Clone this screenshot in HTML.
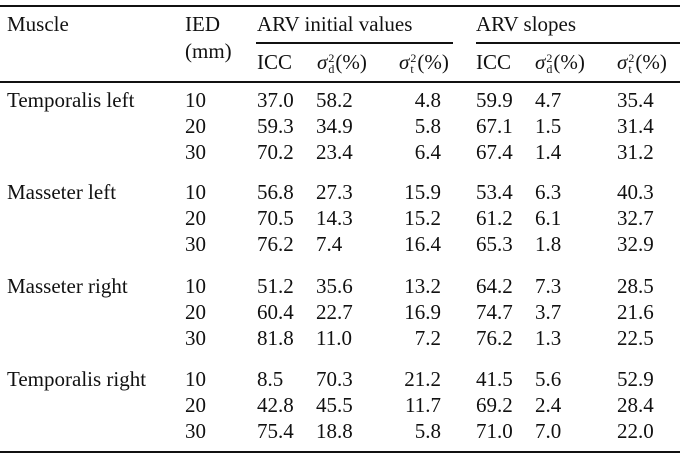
<!DOCTYPE html>
<html><head><meta charset="utf-8"><style>
body{margin:0;background:#fff;}
#t{position:relative;width:680px;height:457px;font-family:"Liberation Serif",serif;font-size:21px;color:#111;overflow:hidden}
#t div{position:absolute;white-space:nowrap;line-height:1}
.r{text-align:right}
.ln{background:#111;height:2px}
.ss{display:inline-block;vertical-align:middle;font-size:12px;line-height:11px;text-align:left;margin:0 1px}
.ss span{display:block}
i{font-style:italic}
</style></head><body>
<div id="t"></div>
<script>
const muscles=["Temporalis left","Masseter left","Masseter right","Temporalis right"];
const ieds=["10","20","30"];
const rows=[
["37.0","58.2","4.8","59.9","4.7","35.4"],["59.3","34.9","5.8","67.1","1.5","31.4"],["70.2","23.4","6.4","67.4","1.4","31.2"],
["56.8","27.3","15.9","53.4","6.3","40.3"],["70.5","14.3","15.2","61.2","6.1","32.7"],["76.2","7.4","16.4","65.3","1.8","32.9"],
["51.2","35.6","13.2","64.2","7.3","28.5"],["60.4","22.7","16.9","74.7","3.7","21.6"],["81.8","11.0","7.2","76.2","1.3","22.5"],
["8.5","70.3","21.2","41.5","5.6","52.9"],["42.8","45.5","11.7","69.2","2.4","28.4"],["75.4","18.8","5.8","71.0","7.0","22.0"]];
const t=document.getElementById('t');
function add(html,x,y,name,right){const d=document.createElement('div');d.innerHTML=html;


if(right){d.className='r';d.style.right=(680-x)+'px';}else d.style.left=x+'px';
d.style.top=(y-11)+'px';t.appendChild(d);return d;}
function line(x,y,w,name){const d=document.createElement('div');d.className='ln';d.style.left=x+'px';d.style.top=y+'px';d.style.width=w+'px';


t.appendChild(d);}
line(0,5,680,'top-rule');line(256,42,197,'initial-rule');line(476,42,204,'slopes-rule');line(0,81,680,'header-rule');line(0,451,680,'bottom-rule');
add('Muscle',7,25,'header-muscle');add('IED',185,25,'header-ied');add('(mm)',185,52,'header-ied-unit');
add('ARV initial values',257,25,'header-arv-initial');add('ARV slopes',476,25,'header-arv-slopes');
const sd='<i>σ</i><span class="ss"><span>2</span><span>d</span></span>(%)',st='<i>σ</i><span class="ss"><span>2</span><span>t</span></span>(%)';
add('ICC',257,63,'header-icc-1');add(sd,317,63,'header-sd-1');add(st,399,63,'header-st-1');
add('ICC',476,63,'header-icc-2');add(sd,535,63,'header-sd-2');add(st,617,63,'header-st-2');
const xs=[257,316,441,476,535,617],rt=[false,false,true,false,false,false];
const gy=[101,193,287,380];
muscles.forEach((m,g)=>{add(m,7,gy[g],'muscle-label');
ieds.forEach((e,k)=>{const y=gy[g]+k*26;add(e,185,y,'ied-cell');
rows[g*3+k].forEach((v,c)=>add(v,xs[c],y,'value-cell',rt[c]));});});
</script></body></html>
